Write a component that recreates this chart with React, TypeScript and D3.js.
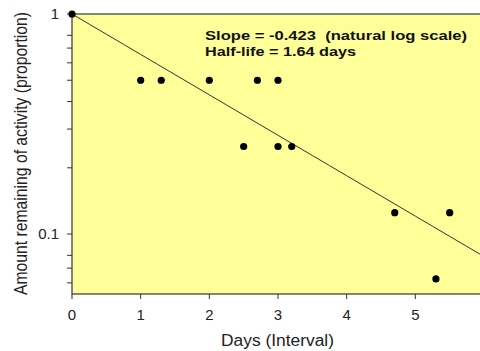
import { useEffect, useRef } from "react";
import * as d3 from "d3";

// data
const days = [0, 1, 1.3, 2, 2.7, 3, 2.5, 3, 3.2, 4.7, 5.5, 5.3];
const activity = [1, 0.5, 0.5, 0.5, 0.5, 0.5, 0.25, 0.25, 0.25, 0.125, 0.125, 0.0625];
const slope = -0.423;
const xTicks = [0, 1, 2, 3, 4, 5, 6];
const yMajorTicks = [1, 0.1];
const yMinorTicks = [0.8, 0.7, 0.6, 0.5, 0.4, 0.3, 0.2, 0.08, 0.07, 0.06];
const noteLines = ["Slope = -0.423  (natural log scale)", "Half-life = 1.64 days"];
const noteWidths = [262, 151];

export default function App() {
  const svgRef = useRef<SVGSVGElement>(null);

  useEffect(() => {
    if (!svgRef.current) return;
    const svg = d3.select(svgRef.current);
    svg.selectAll("*").remove();

    const width = 480;
    const height = 351;
    const left = 72;
    const right = 484;
    const top = 14;
    const bottom = 294;

    const x = d3.scaleLinear().domain([0, 6]).range([left, right]);
    const y = d3.scaleLog().domain([0.0534, 1]).range([bottom, top]);

    svg.attr("width", width).attr("height", height);

    svg.append("rect").attr("width", width).attr("height", height).attr("fill", "#fff");

    // plot area
    svg
      .append("rect")
      .attr("x", left)
      .attr("y", top)
      .attr("width", right - left)
      .attr("height", bottom - top)
      .attr("fill", "#ffff99")
      .attr("stroke", "#333")
      .attr("stroke-width", 1.2);

    const font = "Arial, 'Liberation Sans', sans-serif";

    // y axis ticks
    svg
      .append("g")
      .selectAll("line")
      .data([...yMajorTicks, ...yMinorTicks])
      .join("line")
      .attr("x1", left - 5)
      .attr("x2", left)
      .attr("y1", (d) => y(d))
      .attr("y2", (d) => y(d))
      .attr("stroke", "#333");

    svg
      .append("g")
      .selectAll("text")
      .data(yMajorTicks)
      .join("text")
      .attr("x", left - 13)
      .attr("y", (d) => y(d))
      .attr("dy", "0.35em")
      .attr("text-anchor", "end")
      .attr("font-family", font)
      .attr("font-size", 15)
      .attr("fill", "#222")
      .text((d) => String(d));

    // x axis ticks
    svg
      .append("g")
      .selectAll("line")
      .data(xTicks)
      .join("line")
      .attr("x1", (d) => x(d))
      .attr("x2", (d) => x(d))
      .attr("y1", bottom)
      .attr("y2", bottom + 5)
      .attr("stroke", "#333");

    svg
      .append("g")
      .selectAll("text")
      .data(xTicks)
      .join("text")
      .attr("x", (d) => x(d))
      .attr("y", bottom + 26)
      .attr("text-anchor", "middle")
      .attr("font-family", font)
      .attr("font-size", 15)
      .attr("fill", "#222")
      .text((d) => String(d));

    // axis titles
    svg
      .append("text")
      .attr("x", 221)
      .attr("y", 346)
      .attr("textLength", 113)
      .attr("lengthAdjust", "spacingAndGlyphs")
      .attr("font-family", font)
      .attr("font-size", 16)
      .attr("fill", "#222")
      .text("Days (Interval)");

    svg
      .append("text")
      .attr("transform", `translate(27,295) scale(1.25,1) rotate(-90)`)
      .attr("textLength", 283)
      .attr("lengthAdjust", "spacingAndGlyphs")
      .attr("font-family", font)
      .attr("font-size", 14)
      .attr("fill", "#222")
      .text("Amount remaining of activity (proportion)");

    // fitted line, ln(y) = slope * x
    const fit = d3.range(0, 6.01, 0.25).map((d) => [d, Math.exp(slope * d)] as [number, number]);
    svg
      .append("path")
      .datum(fit)
      .attr("fill", "none")
      .attr("stroke", "#333")
      .attr("stroke-width", 1)
      .attr(
        "d",
        d3
          .line<[number, number]>()
          .x((d) => x(d[0]))
          .y((d) => y(d[1]))
      );

    // points
    svg
      .append("g")
      .selectAll("circle")
      .data(days)
      .join("circle")
      .attr("cx", (d) => x(d))
      .attr("cy", (_, i) => y(activity[i]))
      .attr("r", 3.6)
      .attr("fill", "#000");

    // note
    svg
      .append("g")
      .selectAll("text")
      .data(noteLines)
      .join("text")
      .attr("x", 205)
      .attr("y", (_, i) => 40 + i * 15.5)
      .attr("textLength", (_, i) => noteWidths[i])
      .attr("lengthAdjust", "spacingAndGlyphs")
      .attr("font-family", font)
      .attr("font-size", 12)
      .attr("font-weight", "bold")
      .attr("fill", "#111")
      .style("white-space", "pre")
      .text((d) => d);
  }, []);

  return (
    <div style={{ position: "absolute", left: 0, top: 0 }}>
      <svg ref={svgRef} style={{ display: "block" }} />
    </div>
  );
}
